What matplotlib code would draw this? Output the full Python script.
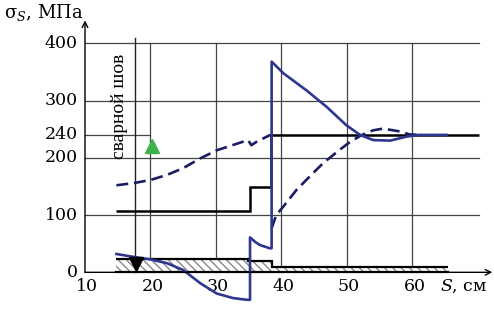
import matplotlib
matplotlib.use("Agg")
import matplotlib.pyplot as plt

# ---- data ----
x_ticks = [10, 20, 30, 40, 50, 60]
y_ticks = [0, 100, 200, 240, 300, 400]
x_grid = [20, 30, 40, 50, 60]
y_grid = [100, 200, 300, 400]
weld_x = 17.6

plate_edges = [14.8, 34.9, 38.5, 65.4]
plate_h = [24, 19, 10]

yield_edges = [14.8, 35.2, 38.4, 70.2]
yield_vals = [107, 149, 240]

solid_x = [14.8, 17.9, 19.9, 22.5, 25.0, 27.6, 30.1, 32.6, 34.7, 35.2, 35.2, 36.0, 36.7,
           38.2, 38.5, 38.5, 40.3, 43.8, 46.9, 49.9, 52.0, 54.0, 56.6, 59.1, 61.0, 65.2]
solid_y = [32, 26, 22.7, 16, 4, -19, -37, -45, -48, -48, 61, 53, 47.7,
           42, 42, 368, 347.6, 318, 289, 257, 240, 231, 230, 237, 240, 240]

dash1_x = [14.8, 17.5, 19.9, 22.5, 25.0, 27.6, 30.1, 32.5, 34.9, 35.4, 36.2, 38.3]
dash1_y = [152, 156, 161, 170, 182, 199, 213, 222, 231, 222, 228, 240]

dash2_x = [38.5, 39.2, 40.3, 42.3, 44.8, 46.4, 48.9, 50.5, 52.3, 54.0, 55.5, 58.1, 59.5, 61.0]
dash2_y = [77, 100, 115, 144, 173, 191, 214, 228, 240, 248, 251, 246, 241, 240]

green_pt = (20.2, 220)
weld_mark = (17.8, 14.5)

# ---- figure ----
plt.rcParams['mathtext.fontset'] = 'dejavuserif'
serif = 'DejaVu Serif'
fig = plt.figure(figsize=(4.94, 3.10), dpi=100)
ax = fig.add_axes([85/494, 6.2/310, 406/494, 283.4/310])
ax.set_xlim(10, 72)
ax.set_ylim(-55, 440)
ax.axis('off')

gcol = '#444444'
for gx in x_grid:
    ax.plot([gx, gx], [0, 400], color=gcol, lw=0.9, zorder=1)
for gy in y_grid:
    ax.plot([10, 70.2], [gy, gy], color=gcol, lw=0.9, zorder=1)
ax.plot([10, 20], [240, 240], color=gcol, lw=0.9, zorder=1)
ax.plot([weld_x, weld_x], [0, 409], color='#222222', lw=1.0, zorder=1)

# axes with arrows
ax.annotate('', xy=(72.2, 0), xytext=(10, 0),
            arrowprops=dict(arrowstyle='->', lw=1.0, color='black', shrinkA=0, shrinkB=0),
            annotation_clip=False, zorder=5)
ax.annotate('', xy=(10, 440), xytext=(10, 0),
            arrowprops=dict(arrowstyle='->', lw=1.0, color='black', shrinkA=0, shrinkB=0),
            annotation_clip=False, zorder=5)

# plate cross-section (hatched)
ax.stairs(plate_h, plate_edges, baseline=0, fill=True, facecolor='white',
          edgecolor='#888888', hatch='\\\\\\\\', lw=0, zorder=2)
ax.stairs(plate_h, plate_edges, baseline=None, color='black', lw=1.6, zorder=3)
ax.plot([plate_edges[0], plate_edges[-1]], [0, 0], color='black', lw=1.6, zorder=3)

# yield line
ax.stairs(yield_vals, yield_edges, baseline=None, color='black', lw=1.8, zorder=3)

# curves
ax.plot(dash1_x, dash1_y, color='#1c1c64', lw=1.9, ls=(0, (4.5, 2.2)), zorder=4)
ax.plot(dash2_x, dash2_y, color='#1c1c64', lw=1.9, ls=(0, (4.5, 2.2)), zorder=4)
ax.plot(solid_x, solid_y, color='#2e3690', lw=1.9, zorder=4)

# markers
ax.plot([weld_mark[0]], [weld_mark[1]], marker='v', color='black', ms=9.5, zorder=6)
ax.plot([green_pt[0]], [green_pt[1]], marker='^', color='#3cb44b', ms=10, zorder=6)

# tick labels
for xv in x_ticks:
    ax.text(xv + 0.3, -10, str(xv), ha='center', va='top', fontsize=12.5,
            family=serif)
for yv in y_ticks:
    ax.text(8.9, yv, str(yv), ha='right', va='center', fontsize=12.5, family=serif)
ax.text(64.2, -10, r'$S$, см', ha='left', va='top', fontsize=12.5, family=serif)
fig.text(4/494, 1 - 2/310, 'σ$_{S}$, МПа', ha='left', va='top', fontsize=13,
         family=serif)
ax.text(15.3, 289, 'сварной шов', rotation=90, ha='center', va='center',
        fontsize=14, family='Liberation Serif')

fig.savefig('out.png', dpi=100)
